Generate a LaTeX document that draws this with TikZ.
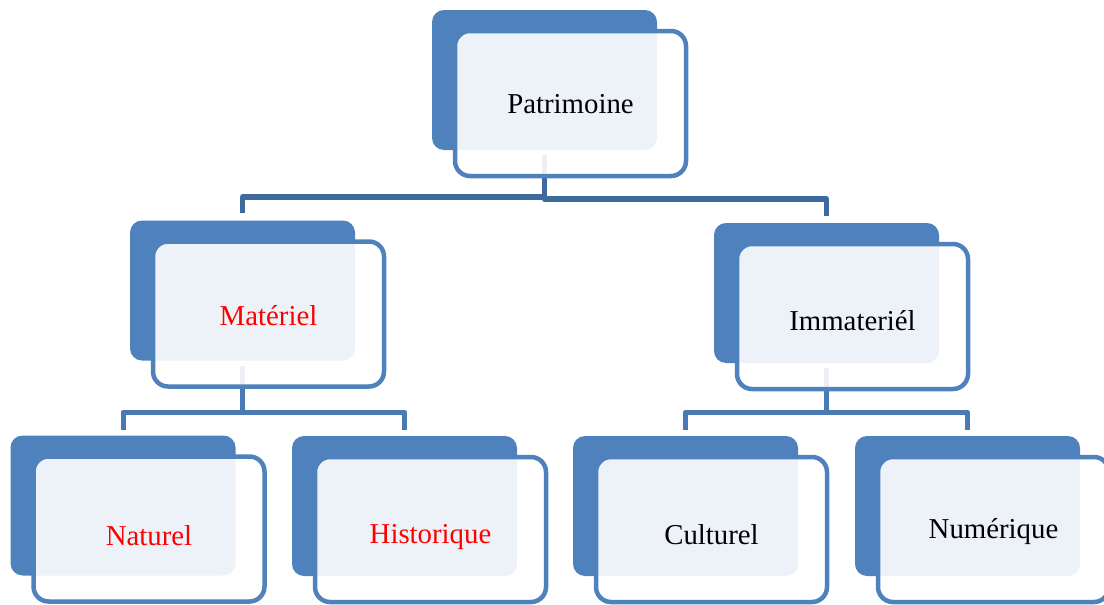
\documentclass[tikz,border=0pt]{standalone}
\usepackage{fontspec}
\setmainfont{Liberation Serif}
\usetikzlibrary{positioning,backgrounds}
\definecolor{boxblue}{HTML}{4F81BD}
\definecolor{trunkblue}{HTML}{3E6A9E}
\definecolor{branchblue}{HTML}{4A7AB4}
\definecolor{labelred}{HTML}{FF0000}
\tikzset{
  backbox/.style={
    fill=boxblue,
    rounded corners=12pt,
    minimum width=225pt,
    minimum height=140pt,
    inner sep=0pt
  },
  frontbox/.style={
    draw=boxblue,
    line width=4.5pt,
    fill=white,
    fill opacity=0.9,
    rounded corners=15pt,
    minimum width=231pt,
    minimum height=145pt,
    inner sep=0pt
  },
  caption/.style={
    anchor=base,
    inner sep=0pt,
    font=\fontsize{28.8}{34}\selectfont
  },
  trunk/.style={
    draw=trunkblue,
    line width=5.5pt,
    line join=round
  },
  branch/.style={
    draw=branchblue,
    line width=5pt,
    line join=round
  }
}

\begin{document}
\begin{tikzpicture}[x=1pt,y=-1pt]
  \useasboundingbox (0,0) rectangle (1104,605);

  % back cards
  \node[backbox] (patr) at (544.5,80) {};
  \node[backbox] (mat) at (242.5,290.5) {};
  \node[backbox] (imm) at (826.5,293) {};
  \node[backbox] (nat) at (123,505.5) {};
  \node[backbox] (hist) at (404.5,506) {};
  \node[backbox] (cult) at (685.5,506) {};
  \node[backbox] (num) at (967.5,506) {};

  % front cards
  \node[frontbox] (patrF) at ([shift={(26,23.5)}]patr.center) {};
  \node[frontbox] (matF) at ([shift={(26,23.5)}]mat.center) {};
  \node[frontbox] (immF) at ([shift={(26,23.5)}]imm.center) {};
  \node[frontbox] (natF) at ([shift={(26,23.5)}]nat.center) {};
  \node[frontbox] (histF) at ([shift={(26,23.5)}]hist.center) {};
  \node[frontbox] (cultF) at ([shift={(26,23.5)}]cult.center) {};
  \node[frontbox] (numF) at ([shift={(26,23.5)}]num.center) {};

  % labels
  \node[caption] (patrT) at ([yshift=-9.5pt]patrF.center) {Patrimoine};
  \node[caption, text=labelred] (matT) at ([yshift=-11pt]matF.center) {Matériel};
  \node[caption] (immT) at ([yshift=-13.5pt]immF.center) {Immateriél};
  \node[caption, text=labelred] (natT) at ([yshift=-16pt]natF.center) {Naturel};
  \node[caption, text=labelred] (histT) at ([yshift=-13.5pt]histF.center) {Historique};
  \node[caption] (cultT) at ([yshift=-14.5pt]cultF.center) {Culturel};
  \node[caption] (numT) at ([yshift=-8.5pt]numF.center) {Numérique};

  % connectors behind the cards
  \begin{scope}[on background layer]
    \draw[trunk] ([yshift=-5pt]patr.south) -- ++(0,42) -| ([yshift=7pt]mat.north);
    \draw[trunk] ([yshift=-5pt]patr.south) -- ++(0,44) -| ([yshift=7pt]imm.north);
    \draw[branch] ([yshift=-5pt]mat.south) -- ++(0,46.5) -| ([yshift=5.5pt]nat.north);
    \draw[branch] ([yshift=-5pt]mat.south) -- ++(0,46.5) -| ([yshift=5.5pt]hist.north);
    \draw[branch] ([yshift=-5pt]imm.south) -- ++(0,44) -| ([yshift=5.5pt]cult.north);
    \draw[branch] ([yshift=-5pt]imm.south) -- ++(0,44) -| ([yshift=5.5pt]num.north);
  \end{scope}
\end{tikzpicture}
\end{document}
